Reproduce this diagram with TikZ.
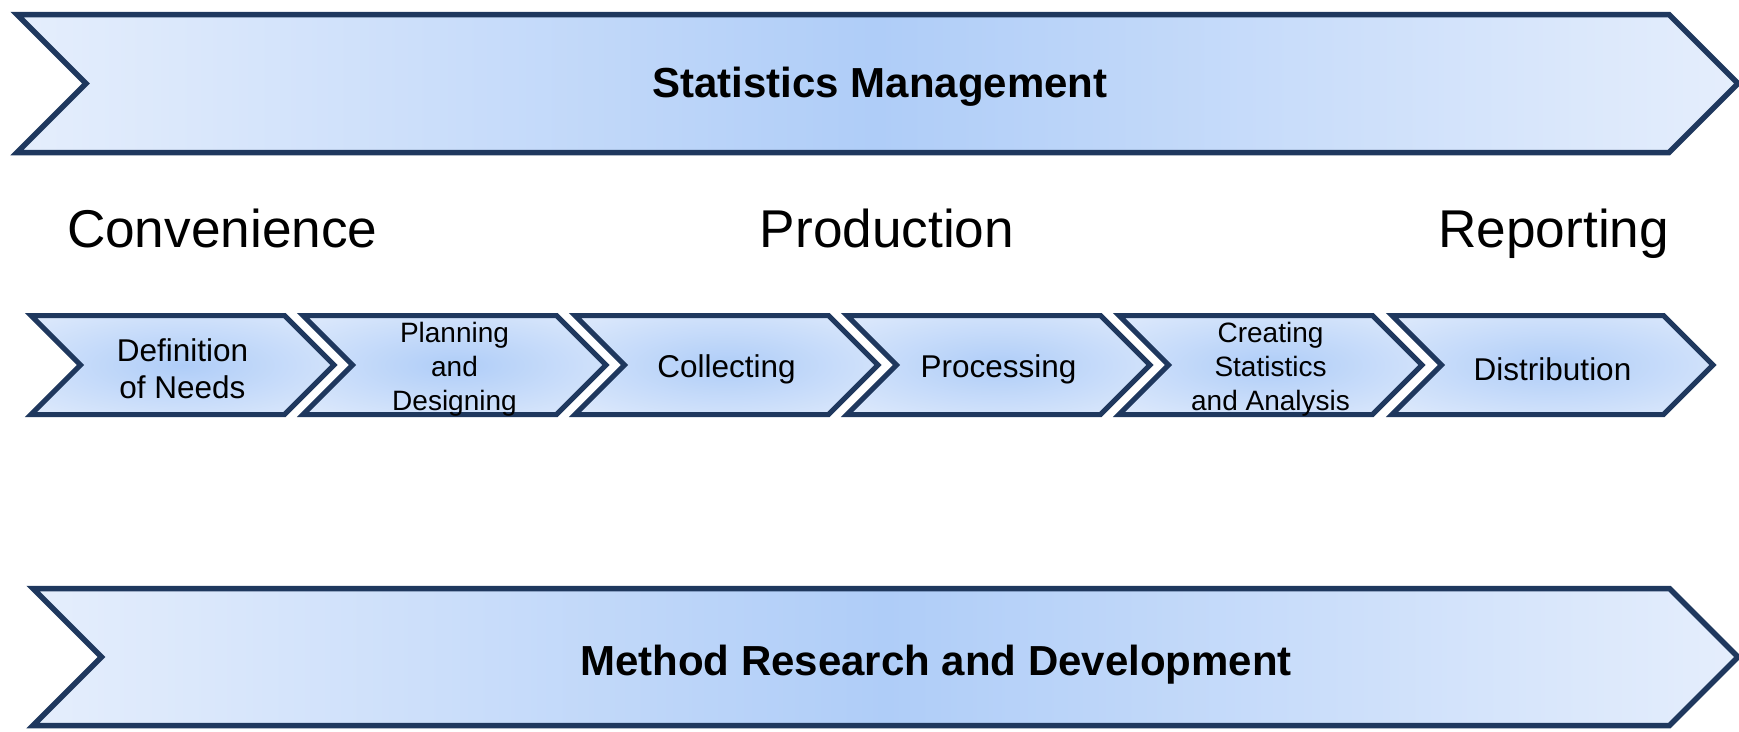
\documentclass[tikz,border=0pt]{standalone}
\usepackage{fontspec}
\setmainfont{Liberation Sans}
\usetikzlibrary{shapes.symbols}
\definecolor{edgeblue}{RGB}{31,56,94}
\definecolor{paleblue}{RGB}{229,238,252}
\definecolor{glowblue}{RGB}{175,205,248}
\pgfdeclareradialshading{stageglow}{\pgfpoint{0bp}{0bp}}{color(0bp)=(glowblue); color(40bp)=(paleblue); color(71bp)=(paleblue)}

\begin{document}
\begin{tikzpicture}[x=1pt,y=-1pt,inner sep=0pt,outer sep=0pt,
band/.style={signal,signal from=west,signal to=east,draw=edgeblue,line width=5.5pt,minimum height=138pt,left color=paleblue,right color=paleblue,middle color=glowblue},
stage/.style={signal,signal from=west,signal to=east,draw=edgeblue,line width=5pt,minimum width=303pt,minimum height=99pt,shading=stageglow},
steplabel/.style={align=center,yshift=-4pt,font=\fontsize{31.5}{37}\selectfont},
smalllabel/.style={steplabel,font=\fontsize{28}{34}\selectfont},
bandtext/.style={anchor=base,font=\fontsize{42}{50}\selectfont\bfseries},
phase/.style={font=\fontsize{53.2}{62}\selectfont}]

\useasboundingbox (0,0) rectangle (1739,731);

% top and bottom bands
\draw (877.5,83.5) node[band,minimum width=1721pt] (mgmt) {};
\draw (885.5,657) node[band,minimum height=137pt,minimum width=1705pt] (research) {};
\draw (880,97) node[bandtext] (mgmtlabel) {Statistics Management};
\draw (936,675) node[bandtext] (researchlabel) {Method Research and Development};

% phases
\draw (67,247) node[phase,anchor=base west] (conv) {Convenience};
\draw (887,247) node[phase,anchor=base] (prod) {Production};
\draw (1669,247) node[phase,anchor=base east] (report) {Reporting};

% process steps
\draw (182.5,365) node[stage] (needs) {};
\draw (454.5,365) node[stage] (design) {};
\draw (726.5,365) node[stage] (collect) {};
\draw (998.5,365) node[stage] (process) {};
\draw (1270.5,365) node[stage] (analysis) {};
\draw (1552.5,365) node[stage,minimum width=321pt] (distrib) {};

\draw (needs.center) node[steplabel] {Definition\\of Needs};
\draw (design.center) node[smalllabel] {Planning\\and\\Designing};
\draw (collect.center) node[steplabel] {Collecting};
\draw (process.center) node[steplabel] {Processing};
\draw (analysis.center) node[smalllabel] {Creating\\Statistics\\and Analysis};
\draw (distrib.center) node[steplabel] {Distribution};
\end{tikzpicture}
\end{document}
